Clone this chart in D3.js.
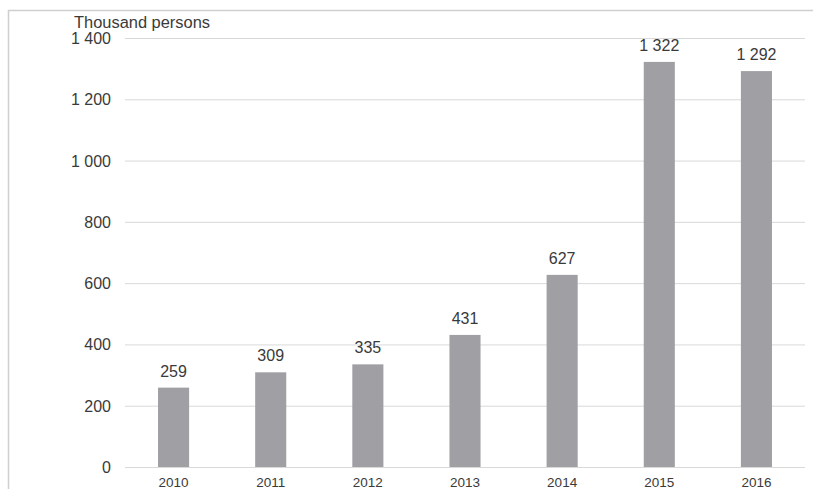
<!DOCTYPE html>
<html><head><meta charset="utf-8">
<script src="https://cdn.jsdelivr.net/npm/d3@7"></script>
<style>body{margin:0;background:#fff}svg{display:block}</style>
</head><body>
<script>
const categories = ["2010","2011","2012","2013","2014","2015","2016"];
const values = [259, 309, 335, 431, 627, 1322, 1292];
const valueLabels = ["259","309","335","431","627","1 322","1 292"];
const yTicks = [0,200,400,600,800,1000,1200,1400];
const yTickLabels = ["0","200","400","600","800","1 000","1 200","1 400"];
const unitLabel = "Thousand persons";

const W = 813, H = 489;
const svg = d3.select("body").append("svg").attr("width", W).attr("height", H);
const font = "Liberation Sans, Arial, sans-serif";

// frame
svg.append("path").attr("d", `M8.5,${H} V10.5 H${W}`).attr("fill","none").attr("stroke","#cfcfcf").attr("stroke-width",1.5);

const x = d3.scaleBand().domain(categories).range([125, 805]).paddingInner(0.68).paddingOuter(0.34);
const y = d3.scaleLinear().domain([0,1400]).range([467, 38]);

// gridlines
svg.append("g").selectAll("line").data(yTicks).join("line")
  .attr("x1",125).attr("x2",805)
  .attr("y1",d=>y(d)+0.5).attr("y2",d=>y(d)+0.5)
  .attr("stroke","#d9d9d9").attr("stroke-width",1);

// y labels
svg.append("g").selectAll("text").data(yTicks).join("text")
  .attr("x",111).attr("y",d=>y(d)+6)
  .attr("text-anchor","end").attr("font-family",font).attr("font-size",16).attr("fill","#3a3a3a")
  .text((d,i)=>yTickLabels[i]);

// unit label
svg.append("text").attr("x",74).attr("y",27.5).attr("font-family",font).attr("font-size",16).attr("fill","#3a3a3a")
  .attr("textLength",136).attr("lengthAdjust","spacingAndGlyphs").text(unitLabel);

// bars
svg.append("g").selectAll("rect").data(values).join("rect")
  .attr("x",(d,i)=>x(categories[i])).attr("width",x.bandwidth())
  .attr("y",d=>y(d)).attr("height",d=>y(0)-y(d))
  .attr("fill","#a0a0a4");

// value labels
svg.append("g").selectAll("text").data(values).join("text")
  .attr("x",(d,i)=>x(categories[i])+x.bandwidth()/2).attr("y",d=>y(d)-11)
  .attr("text-anchor","middle").attr("font-family",font).attr("font-size",16).attr("fill","#3a3a3a")
  .text((d,i)=>valueLabels[i]);

// x labels
svg.append("g").selectAll("text").data(categories).join("text")
  .attr("x",d=>x(d)+x.bandwidth()/2).attr("y",486.5)
  .attr("text-anchor","middle").attr("font-family",font).attr("font-size",13.5).attr("fill","#3a3a3a")
  .text(d=>d);
</script>
</body></html>
